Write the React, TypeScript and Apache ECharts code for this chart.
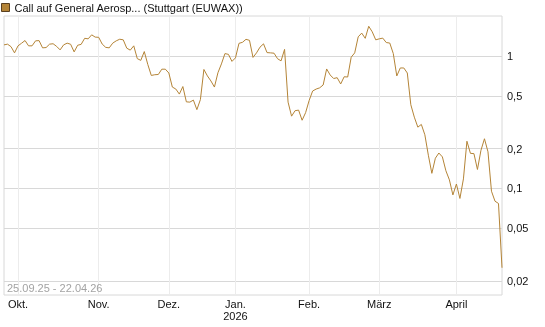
import React, { useEffect, useRef } from 'react';
import * as echarts from 'echarts';

const seriesName = 'Call auf General Aerosp... (Stuttgart (EUWAX))';
const rangeText = '25.09.25 - 22.04.26';
const startDate = '2025-09-25';
const endDate = '2026-04-22';
const holidays = ['2025-12-24', '2025-12-25', '2025-12-26', '2025-12-31', '2026-01-01', '2026-04-03', '2026-04-06'];

const prices = [
  1.211, 1.226, 1.174, 1.054, 1.191, 1.246, 1.306, 1.191, 1.191, 1.299,
  1.304, 1.150, 1.156, 1.226, 1.235, 1.180, 1.110, 1.211, 1.248, 1.224,
  1.072, 1.203, 1.222, 1.357, 1.345, 1.442, 1.386, 1.381, 1.228, 1.160,
  1.150, 1.248, 1.299, 1.336, 1.322, 1.144, 1.105, 1.191, 0.954, 0.925,
  1.078, 0.862, 0.712, 0.721, 0.724, 0.794, 0.794, 0.743, 0.582, 0.562,
  0.515, 0.587, 0.450, 0.448, 0.464, 0.393, 0.468, 0.790, 0.706, 0.647,
  0.582, 0.746, 0.870, 1.041, 1.027, 0.909, 0.966, 1.244, 1.266, 1.334,
  1.310, 0.974, 1.054, 1.164, 1.233, 1.059, 1.054, 1.048, 0.952, 0.917,
  1.120, 0.448, 0.351, 0.386, 0.390, 0.327, 0.373, 0.460, 0.543, 0.562,
  0.574, 0.603, 0.797, 0.718, 0.675, 0.685, 0.614, 0.696, 0.693, 0.978,
  1.054, 1.393, 1.486, 1.357, 1.673, 1.519, 1.322, 1.345, 1.362, 1.261,
  1.250, 1.041, 0.706, 0.811, 0.811, 0.743, 0.428, 0.345, 0.290, 0.304,
  0.254, 0.178, 0.130, 0.169, 0.185, 0.173, 0.136, 0.116, 0.0893, 0.108,
  0.0840, 0.118, 0.227, 0.184, 0.183, 0.139, 0.194, 0.237, 0.189, 0.0953,
  0.0801, 0.0770, 0.0252,
];

const yTicks = [0.02, 0.05, 0.1, 0.2, 0.5, 1];
const monthLabels: Record<string, string> = {
  '01': 'Jan.\n2026', '02': 'Feb.', '03': 'März', '04': 'April',
  '10': 'Okt.', '11': 'Nov.', '12': 'Dez.',
};

function tradingDays(): string[] {
  const out: string[] = [];
  const d = new Date(startDate + 'T12:00:00Z');
  const end = new Date(endDate + 'T12:00:00Z');
  while (d <= end) {
    const wd = d.getUTCDay();
    const s = d.toISOString().slice(0, 10);
    if (wd !== 0 && wd !== 6 && !holidays.includes(s)) out.push(s);
    d.setUTCDate(d.getUTCDate() + 1);
  }
  return out;
}

const dates = tradingDays();
const isMonthStart = (i: number) => i > 0 && dates[i].slice(5, 7) !== dates[i - 1].slice(5, 7);

const FONT = '"Liberation Sans", Arial, sans-serif';

export default function App() {
  const ref = useRef<HTMLDivElement>(null);
  useEffect(() => {
    document.body.style.margin = '0';
    const chart = echarts.init(ref.current!, null, { renderer: 'svg' });
    chart.setOption({
      animation: false,
      title: {
        text: rangeText,
        left: 7,
        top: 282,
        padding: 0,
        textStyle: { fontSize: 11, fontWeight: 'normal', color: '#a3a3a3', fontFamily: FONT },
      },
      legend: {
        left: 1,
        top: 2,
        padding: 0,
        icon: 'rect',
        itemWidth: 8,
        itemHeight: 8,
        itemStyle: { borderColor: '#5a4020', borderWidth: 1 },
        textStyle: { fontSize: 11, color: '#111', fontFamily: FONT },
        data: [seriesName],
      },
      grid: {
        left: 4,
        right: 43,
        top: 16,
        bottom: 32,
        show: true,
        borderColor: '#d8d8d8',
        borderWidth: 1,
      },
      xAxis: {
        type: 'category',
        data: dates,
        boundaryGap: false,
        axisLine: { show: false },
        axisTick: { show: false },
        axisLabel: {
          interval: (i: number) => isMonthStart(i),
          formatter: (v: string) => monthLabels[v.slice(5, 7)] || '',
          fontSize: 11,
          color: '#111',
          fontFamily: FONT,
          margin: 3,
          lineHeight: 12,
        },
        splitLine: {
          show: true,
          interval: (i: number) => isMonthStart(i),
          lineStyle: { color: '#ececec', width: 1 },
        },
      },
      yAxis: {
        type: 'log',
        logBase: 10,
        position: 'right',
        min: 0.0157,
        max: 2.0,
        axisLine: { show: false },
        axisTick: { show: false, customValues: yTicks },
        axisLabel: {
          customValues: yTicks,
          formatter: (v: number) => String(v).replace('.', ','),
          fontSize: 11,
          color: '#111',
          fontFamily: FONT,
          margin: 5,
        },
        splitLine: { show: true, lineStyle: { color: '#d8d8d8', width: 1 } },
      },
      series: [
        {
          name: seriesName,
          type: 'line',
          data: prices,
          showSymbol: false,
          symbol: 'none',
          lineStyle: { color: '#b48437', width: 1 },
          itemStyle: { color: '#b48437' },
        },
      ],
    });
    return () => chart.dispose();
  }, []);
  return <div ref={ref} style={{ position: 'fixed', left: 0, top: 0, width: 545, height: 327 }} />;
}
